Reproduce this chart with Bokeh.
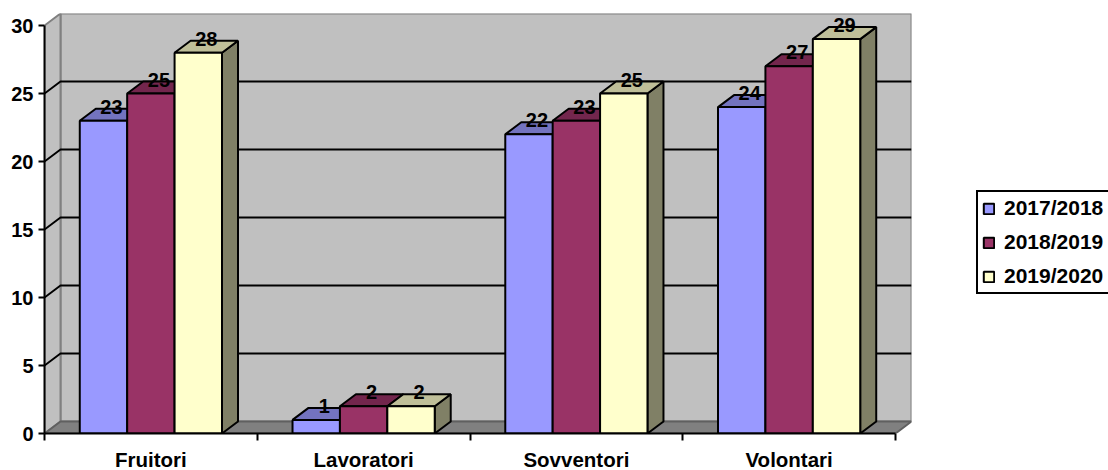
from bokeh.plotting import figure
from bokeh.models import FixedTicker, Legend, LegendItem, Range1d
from bokeh.core.properties import value
from bokeh.embed import file_html
from bokeh.resources import INLINE

categories = ["Fruitori", "Lavoratori", "Sovventori", "Volontari"]
series_names = ["2017/2018", "2018/2019", "2019/2020"]
values_2017 = [23, 1, 22, 24]
values_2018 = [25, 2, 23, 27]
values_2019 = [28, 2, 25, 29]
y_ticks = [0, 5, 10, 15, 20, 25, 30]
all_values = [values_2017, values_2018, values_2019]
front_colors = ["#9999FF", "#993366", "#FFFFCC"]
top_colors = ["#7373BF", "#73264D", "#BFBF99"]
side_colors = ["#5C5C99", "#5C1F3D", "#808066"]

FONT = "Liberation Sans"
n = len(categories)
ymax = 30
dx = 16 / 212.75
dy = 12 / 13.6
bar_w = 47.4 / 212.75
gap = (1 - 3 * bar_w) / 2

p = figure(width=1108, height=470, frame_width=867, frame_height=420,
           min_border_left=44, min_border_right=0, min_border_top=13, min_border_bottom=37,
           x_range=Range1d(0, n + dx), y_range=Range1d(0, ymax + dy),
           output_backend="svg", toolbar_location=None, background_fill_color=None,
           border_fill_color="white", outline_line_color=None)
p.grid.visible = False

# walls and floor
WALL = "#C0C0C0"
EDGE = "#808080"
p.patch([dx, n + dx, n + dx, dx], [dy, dy, ymax + dy, ymax + dy],
        fill_color=WALL, line_color=EDGE, line_width=2)
p.patch([0, dx, dx, 0], [0, dy, ymax + dy, ymax],
        fill_color=WALL, line_color=EDGE, line_width=2)
p.patch([0, dx, n + dx, n], [0, dy, dy, 0],
        fill_color=EDGE, line_color="#606060", line_width=2)

# gridlines on the back wall and the side wall
for t in y_ticks[1:-1]:
    p.line([0, dx, n + dx], [t, t + dy, t + dy], line_color="black", line_width=2)

# bars
renderers = []
for c in range(n):
    for s, vals in enumerate(all_values):
        x0 = c + gap + s * bar_w
        x1 = x0 + bar_w
        v = vals[c]
        p.patch([x1, x1 + dx, x1 + dx, x1], [0, dy, v + dy, v],
                fill_color=side_colors[s], line_color="black", line_width=2)
        p.patch([x0, x1, x1 + dx, x0 + dx], [v, v, v + dy, v + dy],
                fill_color=top_colors[s], line_color="black", line_width=2)
        p.quad(left=[x0], right=[x1], bottom=[0], top=[v],
               fill_color=front_colors[s], line_color="black", line_width=2)

# legend swatches
for s, name in enumerate(series_names):
    r = p.quad(left=[0], right=[0], bottom=[0], top=[0],
               fill_color=front_colors[s], line_color="black", line_width=2)
    renderers.append(r)

# data labels
for c in range(n):
    for s, vals in enumerate(all_values):
        x = c + gap + s * bar_w + bar_w / 2 + dx / 2
        p.text([x], [vals[c] + dy], text=[str(vals[c])], text_align="center",
               text_baseline="middle", text_font=value(FONT), text_font_style="bold",
               text_font_size="20px", text_color="black", y_offset=-2)

xa = p.xaxis[0]
xa.ticker = FixedTicker(ticks=[i + 0.5 for i in range(n)], minor_ticks=list(range(n + 1)))
xa.major_label_overrides = {i + 0.5: categories[i] for i in range(n)}
xa.bounds = (0, n)
xa.major_tick_out = 0
xa.major_tick_in = 0
xa.minor_tick_out = 7
xa.minor_tick_in = 0
xa.minor_tick_line_color = "black"
xa.minor_tick_line_width = 2
xa.axis_line_color = "black"
xa.axis_line_width = 2
xa.major_label_standoff = 7
xa.major_label_text_font = FONT
xa.major_label_text_font_style = "bold"
xa.major_label_text_font_size = "20.5px"
xa.major_label_text_color = "black"

ya = p.yaxis[0]
ya.ticker = FixedTicker(ticks=y_ticks)
ya.bounds = (0, ymax)
ya.major_tick_out = 6
ya.major_tick_in = 0
ya.minor_tick_out = 0
ya.minor_tick_in = 0
ya.major_tick_line_color = "black"
ya.major_tick_line_width = 2
ya.axis_line_color = "black"
ya.axis_line_width = 2
ya.major_label_standoff = 5
ya.major_label_text_font = FONT
ya.major_label_text_font_style = "bold"
ya.major_label_text_font_size = "20px"
ya.major_label_text_color = "black"

legend = Legend(items=[LegendItem(label=series_names[i], renderers=[renderers[i]]) for i in range(3)],
                location=(65, 139), orientation="vertical",
                glyph_width=13, glyph_height=13, label_standoff=9, spacing=10, label_width=101,
                padding=4, margin=0, label_text_font=FONT, label_text_font_style="bold",
                label_text_font_size="21px", label_text_color="black",
                border_line_color="black", border_line_alpha=1, border_line_width=2,
                background_fill_color="white", background_fill_alpha=1)
p.add_layout(legend, "right")

open("out.html", "w").write(file_html(p, INLINE))
